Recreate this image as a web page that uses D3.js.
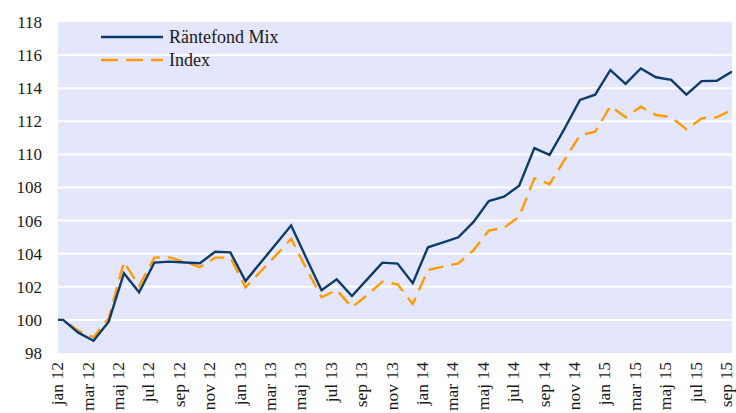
<!DOCTYPE html>
<html>
<head>
<meta charset="utf-8">
<script src="https://cdn.jsdelivr.net/npm/d3@7"></script>
<style>
  html, body { margin: 0; padding: 0; background: #ffffff; }
  svg { display: block; }
  svg text { font-family: 'Liberation Serif', 'Times New Roman', serif; }
</style>
</head>
<body>
<svg id="chart" width="736" height="413"></svg>
<script>
// Month-end index values, base 100 at dec 11
const months = [
  "dec 11",
  "jan 12","feb 12","mar 12","apr 12","maj 12","jun 12","jul 12","aug 12","sep 12","okt 12","nov 12","dec 12",
  "jan 13","feb 13","mar 13","apr 13","maj 13","jun 13","jul 13","aug 13","sep 13","okt 13","nov 13","dec 13",
  "jan 14","feb 14","mar 14","apr 14","maj 14","jun 14","jul 14","aug 14","sep 14","okt 14","nov 14","dec 14",
  "jan 15","feb 15","mar 15","apr 15","maj 15","jun 15","jul 15","aug 15","sep 15"
];

const fundValues = [
  100,
  100.0, 99.23, 98.74, 99.89, 102.82, 101.67, 103.46, 103.52, 103.47, 103.42, 104.12, 104.08,
  102.35, 103.47, 104.58, 105.70, 103.73, 101.79, 102.45, 101.44, 102.45, 103.46, 103.40, 102.22,
  104.39, 104.68, 104.99, 105.92, 107.18, 107.44, 108.11, 110.38, 109.97, 111.58, 113.29, 113.61,
  115.10, 114.26, 115.19, 114.66, 114.50, 113.61, 114.43, 114.45, 115.00
];

const indexValues = [
  100,
  100.0, 99.35, 98.95, 100.10, 103.50, 102.05, 103.76, 103.78, 103.50, 103.18, 103.76, 103.76,
  101.96, 102.94, 103.90, 104.90, 103.10, 101.37, 101.81, 100.76, 101.50, 102.31, 102.15, 100.96,
  103.02, 103.22, 103.42, 104.22, 105.39, 105.57, 106.24, 108.56, 108.20, 109.70, 111.17, 111.37,
  112.92, 112.24, 112.88, 112.38, 112.24, 111.52, 112.18, 112.24, 112.70
];

const seriesNames = ["Räntefond Mix", "Index"];
const tickLabels = ["jan 12","mar 12","maj 12","jul 12","sep 12","nov 12",
  "jan 13","mar 13","maj 13","jul 13","sep 13","nov 13",
  "jan 14","mar 14","maj 14","jul 14","sep 14","nov 14",
  "jan 15","mar 15","maj 15","jul 15","sep 15"];
const yTicks = [98, 100, 102, 104, 106, 108, 110, 112, 114, 116, 118];

// Layout
const plot = { left: 58, right: 732, top: 22, bottom: 353 };
const FONT = "'Liberation Serif', 'Times New Roman', serif";
const BLUE = "#0d3b6a";
const ORANGE = "#ff9b05";
const LABEL_SHIFT = 0.4; // month labels sit slightly ahead of the month-end points

const svg = d3.select("#chart");

const x = d3.scaleLinear()
  .domain([0.664, months.length - 1])
  .range([plot.left, plot.right]);

const y = d3.scaleLinear()
  .domain([98, 118])
  .range([plot.bottom, plot.top]);

// Plot background
svg.append("rect")
  .attr("x", plot.left).attr("y", plot.top)
  .attr("width", plot.right - plot.left)
  .attr("height", plot.bottom - plot.top)
  .attr("fill", "#e4e6fb");

// Horizontal gridlines
svg.append("g")
  .selectAll("line")
  .data(yTicks.filter(v => v > 98 && v < 118))
  .join("line")
  .attr("x1", plot.left).attr("x2", plot.right)
  .attr("y1", d => y(d)).attr("y2", d => y(d))
  .attr("stroke", "#ffffff")
  .attr("stroke-width", 2);

// Y axis
const yAxis = svg.append("g")
  .attr("transform", `translate(${plot.left},0)`)
  .call(d3.axisLeft(y).tickValues(yTicks).tickSize(0).tickPadding(16).tickFormat(d3.format("d")));
yAxis.attr("font-family", FONT);
yAxis.select(".domain").remove();
yAxis.selectAll("text")
  .style("font-family", FONT)
  .style("font-size", "17px")
  .attr("fill", "#1a1a1a");

// X axis (rotated month labels)
const tickPositions = tickLabels.map(l => months.indexOf(l) - LABEL_SHIFT);
const xAxis = svg.append("g")
  .attr("transform", `translate(0,${plot.bottom})`)
  .call(d3.axisBottom(x).tickValues(tickPositions).tickSize(0)
    .tickFormat((d, i) => tickLabels[i]));
xAxis.attr("font-family", FONT);
xAxis.select(".domain").remove();
xAxis.selectAll("text")
  .style("font-family", FONT)
  .style("font-size", "17.5px")
  .attr("fill", "#1a1a1a")
  .attr("transform", "rotate(-90)")
  .attr("text-anchor", "end")
  .attr("x", -9)
  .attr("y", 0)
  .attr("dy", "0.32em");

// Clip lines to the plot area
svg.append("clipPath").attr("id", "plotClip")
  .append("rect")
  .attr("x", plot.left).attr("y", plot.top)
  .attr("width", plot.right - plot.left)
  .attr("height", plot.bottom - plot.top);

const line = d3.line()
  .x((d, i) => x(i))
  .y(d => y(d));

const lines = svg.append("g").attr("clip-path", "url(#plotClip)");

lines.append("path")
  .datum(indexValues)
  .attr("d", line)
  .attr("fill", "none")
  .attr("stroke", ORANGE)
  .attr("stroke-width", 2.4)
  .attr("stroke-dasharray", "15,8");

lines.append("path")
  .datum(fundValues)
  .attr("d", line)
  .attr("fill", "none")
  .attr("stroke", BLUE)
  .attr("stroke-width", 2.4)
  .attr("stroke-linejoin", "miter");

// Legend
const legend = svg.append("g").attr("transform", "translate(101,0)");
const legendItems = [
  { name: seriesNames[0], color: BLUE, dash: null, y: 37 },
  { name: seriesNames[1], color: ORANGE, dash: "17,8", y: 60 }
];
legendItems.forEach(item => {
  legend.append("line")
    .attr("x1", 0).attr("x2", 62)
    .attr("y1", item.y).attr("y2", item.y)
    .attr("stroke", item.color)
    .attr("stroke-width", 2.4)
    .attr("stroke-dasharray", item.dash);
  legend.append("text")
    .attr("x", 68).attr("y", item.y)
    .attr("dy", "0.35em")
    .style("font-family", FONT)
    .style("font-size", "18px")
    .attr("fill", "#1a1a1a")
    .text(item.name);
});
</script>
</body>
</html>
